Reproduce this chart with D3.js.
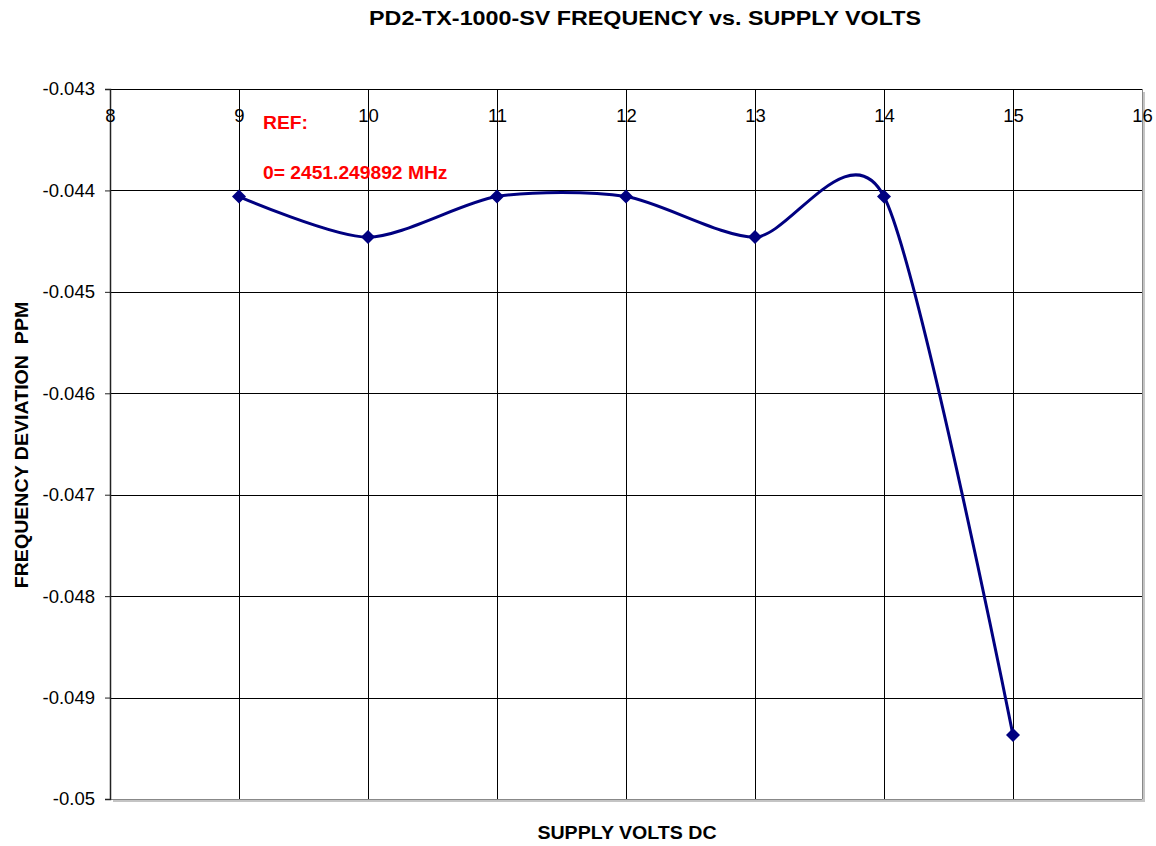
<!DOCTYPE html>
<html>
<head>
<meta charset="utf-8">
<script src="https://cdn.jsdelivr.net/npm/d3@7"></script>
<style>
  html, body { margin: 0; padding: 0; background: #fff; }
  svg { display: block; font-family: "Liberation Sans", Arial, sans-serif; }
</style>
</head>
<body>
<svg id="chart" width="1156" height="846"></svg>
<script>
// Supply voltage (V DC) and measured frequency deviation (ppm)
const volts = [9, 10, 11, 12, 13, 14, 15];
const deviation = [-0.04406, -0.04446, -0.04406, -0.04406, -0.04446, -0.04406, -0.04937];
const xTicks = [8, 9, 10, 11, 12, 13, 14, 15, 16];
const yTicks = [-0.043, -0.044, -0.045, -0.046, -0.047, -0.048, -0.049, -0.05];
const yTickLabels = ["-0.043", "-0.044", "-0.045", "-0.046", "-0.047", "-0.048", "-0.049", "-0.05"];

const svg = d3.select("#chart");
const plotL = 110, plotR = 1142, plotT = 89, plotB = 799;

const x = d3.scaleLinear().domain([8, 16]).range([plotL, plotR]);
const y = d3.scaleLinear().domain([-0.05, -0.043]).range([plotB, plotT]);

// plot area shadow (right and bottom)
svg.append("rect")
  .attr("x", plotL + 3).attr("y", plotT + 3)
  .attr("width", plotR - plotL).attr("height", plotB - plotT)
  .attr("fill", "#c4c4c4");
svg.append("rect")
  .attr("x", plotL).attr("y", plotT)
  .attr("width", plotR - plotL).attr("height", plotB - plotT)
  .attr("fill", "#fff");

// gridlines
svg.append("g")
  .selectAll("line")
  .data(yTicks.slice(1, -1))
  .join("line")
  .attr("x1", plotL).attr("x2", plotR)
  .attr("y1", d => Math.round(y(d)) + 0.5).attr("y2", d => Math.round(y(d)) + 0.5)
  .attr("stroke", "#000").attr("stroke-width", 1);
svg.append("g")
  .selectAll("line")
  .data(xTicks.slice(1, -1))
  .join("line")
  .attr("x1", d => Math.round(x(d)) + 0.5).attr("x2", d => Math.round(x(d)) + 0.5)
  .attr("y1", plotT).attr("y2", plotB)
  .attr("stroke", "#000").attr("stroke-width", 1);

// top border and right/bottom edges
svg.append("line")
  .attr("x1", plotL).attr("x2", plotR).attr("y1", plotT + 0.5).attr("y2", plotT + 0.5)
  .attr("stroke", "#000").attr("stroke-width", 1);
svg.append("line")
  .attr("x1", plotR + 0.5).attr("x2", plotR + 0.5).attr("y1", plotT).attr("y2", plotB)
  .attr("stroke", "#888").attr("stroke-width", 1);
svg.append("line")
  .attr("x1", plotL).attr("x2", plotR).attr("y1", plotB + 0.5).attr("y2", plotB + 0.5)
  .attr("stroke", "#888").attr("stroke-width", 1);

// y axis
const yAxis = d3.axisLeft(y)
  .tickValues(yTicks)
  .tickFormat((d, i) => yTickLabels[i])
  .tickSize(5)
  .tickPadding(10);
const gy = svg.append("g").attr("transform", `translate(${plotL},0)`).call(yAxis);
gy.select(".domain").attr("stroke", "#222").attr("stroke-width", 1.5);
gy.selectAll(".tick line").attr("stroke", "#222");
gy.selectAll("text").attr("font-size", 18.5).attr("fill", "#000")
  .attr("font-family", "'Liberation Sans', Arial, sans-serif");

// x axis labels along the top edge, inside the plot
const xAxis = d3.axisBottom(x).tickValues(xTicks).tickSize(0).tickPadding(20);
const gx = svg.append("g").attr("transform", `translate(0,${plotT})`).call(xAxis);
gx.select(".domain").remove();
gx.selectAll("text").attr("font-size", 18.5).attr("fill", "#000")
  .attr("font-family", "'Liberation Sans', Arial, sans-serif");

// smoothed series line
const line = d3.line()
  .x((d, i) => x(volts[i]))
  .y(d => y(d))
  .curve(d3.curveCardinal.tension(0.2));
svg.append("path")
  .datum(deviation)
  .attr("d", line)
  .attr("fill", "none")
  .attr("stroke", "#000080")
  .attr("stroke-width", 3);

// diamond markers
svg.append("g")
  .selectAll("path")
  .data(deviation)
  .join("path")
  .attr("transform", (d, i) => `translate(${x(volts[i])},${y(d)})`)
  .attr("d", "M0,-7L7,0L0,7L-7,0Z")
  .attr("fill", "#000080");

// bold labels, slightly widened
function label(tx, ty, rot, size, sx, anchor, fill, str) {
  svg.append("text")
    .attr("transform", `translate(${tx},${ty}) rotate(${rot}) scale(${sx},1)`)
    .attr("text-anchor", anchor)
    .attr("font-size", size).attr("font-weight", "bold")
    .attr("fill", fill)
    .style("white-space", "pre")
    .text(str);
}

// reference note
label(263, 129, 0, 17.5, 1.1, "start", "#ff0000", "REF:");
label(263, 179, 0, 17.5, 1.1, "start", "#ff0000", "0= 2451.249892 MHz");

// titles
label(645, 25, 0, 21, 1.11, "middle", "#000", "PD2-TX-1000-SV FREQUENCY vs. SUPPLY VOLTS");
label(627, 839, 0, 17.5, 1.12, "middle", "#000", "SUPPLY VOLTS DC");
label(28, 445, -90, 17.5, 1.12, "middle", "#000", "FREQUENCY DEVIATION\u00A0 PPM");
</script>
</body>
</html>
